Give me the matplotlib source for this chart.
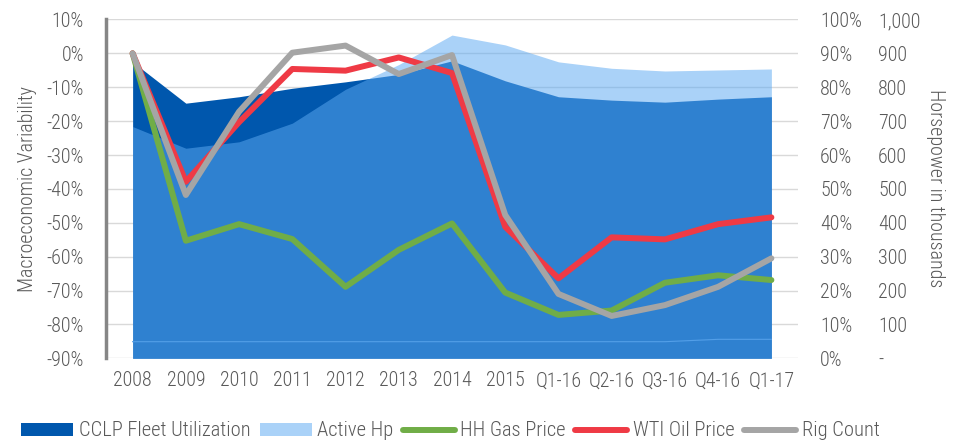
import numpy as np
import matplotlib.pyplot as plt
from matplotlib.patches import Patch
from matplotlib.lines import Line2D

plt.rcParams['font.family'] = ['Roboto Condensed', 'Archivo Narrow', 'Liberation Sans', 'DejaVu Sans']
plt.rcParams['font.weight'] = 'light'
plt.rcParams['font.size'] = 14.4

periods = ['2008', '2009', '2010', '2011', '2012', '2013', '2014', '2015',
           'Q1-16', 'Q2-16', 'Q3-16', 'Q4-16', 'Q1-17']

# areas
fleet_util = [87.5, 75.3, 77.2, 79.7, 81.6, 83.8, 87.8, 81.9, 77.2, 76.2, 75.6, 76.5, 77.2]  # % (right axis)
active_hp = [684, 620, 639, 694, 794, 867, 954, 925, 875, 856, 848, 851, 854]  # thousands hp
seam = [4.9, 4.9, 4.9, 4.9, 4.9, 4.9, 4.9, 4.9, 4.9, 4.9, 4.9, 5.6, 5.6]

# macro lines, % change (left axis)
hh_gas = [0, -55.3, -50.4, -54.8, -68.9, -58.0, -50.2, -70.6, -77.2, -75.9, -67.7, -65.5, -66.9]
wti_oil = [0, -37.9, -20.3, -4.6, -5.1, -1.2, -5.8, -51.2, -66.4, -54.3, -54.9, -50.4, -48.4]
rig_count = [0, -41.8, -17.2, 0.2, 2.3, -6.1, -0.5, -47.7, -71.0, -77.5, -74.3, -68.9, -60.5]

txt = '#595959'
dark = '#0057AD'
light = '#5CA9F2'
x = np.arange(len(periods))

fig = plt.figure(figsize=(9.65, 4.43), dpi=100)
rect = [106/965, 1 - 358.3/443, 692/965, (358.3 - 19.5)/443]

# bottom: grid + fleet utilisation
ax2 = fig.add_axes(rect)
ax2.set_ylim(0, 100)
ax2.set_yticks(np.arange(0, 101, 10))
ax2.set_yticklabels([f'{v}%' for v in range(0, 101, 10)])
ax2.yaxis.tick_right()
ax2.grid(axis='y', color='#D9D9D9', lw=1)
ax2.set_axisbelow(True)
ax2.fill_between(x, 0, fleet_util, color=dark, lw=0, zorder=2)
ax2.plot(x, seam, color='#4A95DE', lw=0.8, zorder=4)

# middle: active hp
ax3 = fig.add_axes(rect, sharex=ax2)
ax3.patch.set_visible(False)
ax3.set_ylim(0, 1000)
ax3.set_yticks(np.arange(0, 1001, 100))
ax3.set_yticklabels(['-'] + [f'{v:,}' for v in range(100, 1001, 100)])
ax3.yaxis.tick_right()
ax3.fill_between(x, 0, active_hp, color=light, alpha=0.52, lw=0)

# top: lines
ax = fig.add_axes(rect, sharex=ax2)
ax.patch.set_visible(False)
ax.set_ylim(-90, 10)
ax.set_yticks(np.arange(-90, 11, 10))
ax.set_yticklabels([f'{v}%' for v in range(-90, 11, 10)])
kw = dict(lw=4.3, solid_capstyle='round', solid_joinstyle='round')
ax.plot(x, hh_gas, color='#70AD47', **kw)
ax.plot(x, wti_oil, color='#EF3A45', **kw)
ax.plot(x, rig_count, color='#A5A5A5', **kw)

ax.set_xlim(-0.5, len(periods) - 0.5)
ax.set_xticks(x)
ax.set_xticklabels(periods)

for a in (ax, ax2, ax3):
    for s in a.spines.values():
        s.set_visible(False)
    a.tick_params(length=0, colors=txt, labelsize=14.4)
ax.spines['left'].set_visible(True)
ax.spines['left'].set_color('#868686')
ax.spines['left'].set_linewidth(2.5)
ax.tick_params(axis='y', pad=15.8)
ax.tick_params(axis='x', pad=9.5)
ax2.tick_params(axis='y', pad=15.8)
ax3.tick_params(axis='y', pad=57.6)
ax2.tick_params(axis='x', labelbottom=False)
ax3.tick_params(axis='x', labelbottom=False)

fig.text(28/965, 1 - 189/443, 'Macroeconomic Variability', rotation=90,
         ha='center', va='center', color=txt, fontsize=14.4)
fig.text(935/965, 1 - 188.5/443, 'Horsepower in thousands', rotation=270,
         ha='center', va='center', color=txt, fontsize=14.4)

# legend
lfs = 14.8
lpx = lfs * 100 / 72
handles = [Patch(color=dark, lw=0), Patch(color=light, alpha=0.52, lw=0),
           Line2D([], [], color='#70AD47', lw=4.3, solid_capstyle='round'),
           Line2D([], [], color='#EF3A45', lw=4.3, solid_capstyle='round'),
           Line2D([], [], color='#A5A5A5', lw=4.3, solid_capstyle='round')]
labels = ['CCLP Fleet Utilization', 'Active Hp', 'HH Gas Price', 'WTI Oil Price', 'Rig Count']
leg = fig.legend(handles, labels, loc='center left', bbox_to_anchor=(21/965, 1 - 431/443),
                 ncol=5, frameon=False, borderpad=0, borderaxespad=0,
                 handlelength=52/lpx, handleheight=12/lpx,
                 handletextpad=5.6/lpx, columnspacing=9.4/lpx, fontsize=lfs)
for t in leg.get_texts():
    t.set_color(txt)

fig.savefig('out.png', dpi=100)
